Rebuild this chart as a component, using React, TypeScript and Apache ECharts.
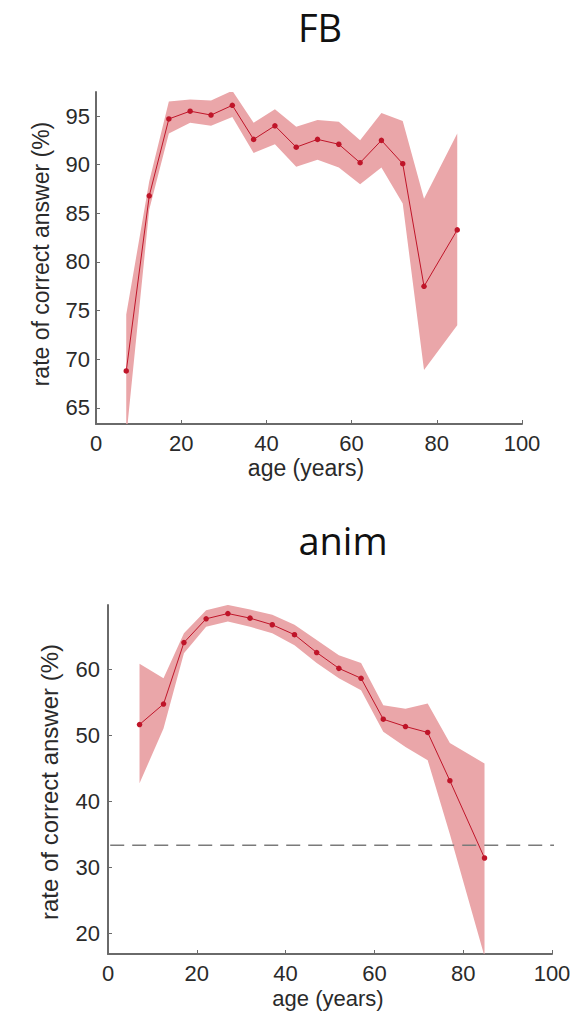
import React, { useEffect, useRef } from "react";
import * as echarts from "echarts";

// Age bin centres (years)
const ages = [7.1, 12.5, 17.1, 22.1, 27, 32, 37, 42, 47, 52, 57, 62, 67, 72, 77, 84.8];

// FB task: mean and confidence band (%)
const fbMean = [68.8, 86.8, 94.7, 95.5, 95.1, 96.1, 92.6, 94.0, 91.8, 92.6, 92.1, 90.2, 92.5, 90.1, 77.5, 83.3];
const fbUpper = [74.6, 88.3, 96.5, 96.7, 96.6, 97.6, 94.3, 95.7, 93.9, 94.6, 94.4, 92.5, 95.3, 94.5, 86.5, 93.2];
const fbLower = [62.0, 85.4, 93.2, 94.3, 94.0, 94.9, 91.2, 92.1, 89.8, 90.5, 89.7, 88.0, 89.7, 86.0, 68.9, 73.5];

// anim task: mean and confidence band (%)
const animMean = [51.6, 54.7, 64.0, 67.6, 68.4, 67.7, 66.7, 65.2, 62.5, 60.1, 58.6, 52.4, 51.3, 50.4, 43.1, 31.4];
const animUpper = [60.8, 58.6, 65.4, 68.9, 69.7, 69.0, 68.2, 66.7, 64.4, 62.1, 60.9, 54.5, 54.0, 54.8, 48.8, 45.7];
const animLower = [42.7, 51.0, 62.4, 66.4, 67.2, 66.4, 65.4, 63.6, 60.9, 58.6, 56.8, 50.5, 48.2, 46.2, 35.0, 16.5];

const chanceLevel = 100 / 3;

const xTicks = [0, 20, 40, 60, 80, 100];
const fbTicks = [65, 70, 75, 80, 85, 90, 95];
const animTicks = [20, 30, 40, 50, 60];

const BAND = "#eaa6a9";
const RED = "#bf1529";
const AXIS = "#6a6a6a";
const LABEL = "#2a2a2a";
const FONT = "'Liberation Sans', Arial, sans-serif";
const TITLE_FONT = "'Open Sans', 'Noto Sans', sans-serif";

function bandSeries(idx: number, lower: number[], upper: number[]) {
  return {
    type: "custom",
    xAxisIndex: idx,
    yAxisIndex: idx,
    clip: true,
    silent: true,
    z: 1,
    data: ages.map((a, i) => [a, lower[i], upper[i]]),
    encode: { x: 0, y: [1, 2] },
    renderItem: (params: any, api: any) => {
      if (params.dataIndex !== 0) return null;
      const top = ages.map((a, i) => api.coord([a, upper[i]]));
      const bottom = ages.map((a, i) => api.coord([a, lower[i]])).reverse();
      return {
        type: "polygon",
        shape: { points: top.concat(bottom) },
        style: { fill: BAND, stroke: null },
      };
    },
  };
}

function meanSeries(idx: number, mean: number[]) {
  return {
    type: "line",
    xAxisIndex: idx,
    yAxisIndex: idx,
    z: 3,
    data: ages.map((a, i) => [a, mean[i]]),
    symbol: "circle",
    symbolSize: 5.5,
    lineStyle: { color: RED, width: 1 },
    itemStyle: { color: RED },
  };
}

function xAxis(idx: number) {
  return {
    type: "value",
    gridIndex: idx,
    min: 0,
    max: 100,
    interval: 20,
    axisLine: { show: true, lineStyle: { color: AXIS, width: 2 } },
    axisTick: { show: true, inside: true, length: 4, lineStyle: { color: AXIS, width: 1 } },
    axisLabel: {
      fontSize: 22,
      color: LABEL,
      fontFamily: FONT,
      margin: 8,
      showMinLabel: true,
      showMaxLabel: true,
      customValues: xTicks,
    },
    splitLine: { show: false },
  };
}

function yAxis(idx: number, min: number, max: number, ticks: number[], margin: number) {
  return {
    type: "value",
    gridIndex: idx,
    min,
    max,
    axisLine: { show: true, lineStyle: { color: AXIS, width: 2 } },
    axisTick: { show: true, inside: true, length: 4, lineStyle: { color: AXIS, width: 1 }, customValues: ticks },
    axisLabel: { fontSize: 22, color: LABEL, fontFamily: FONT, margin, customValues: ticks },
    splitLine: { show: false },
  };
}

export default function App() {
  const ref = useRef<HTMLDivElement>(null);
  useEffect(() => {
    if (!ref.current) return;
    const chart = echarts.init(ref.current, undefined, { renderer: "svg" });
    chart.setOption({
      animation: false,
      backgroundColor: "#ffffff",
      grid: [
        { left: 96, top: 92, width: 426, height: 332 },
        { left: 108, top: 605, width: 444, height: 349 },
      ],
      xAxis: [xAxis(0), xAxis(1)],
      yAxis: [yAxis(0, 63.35, 97.47, fbTicks, 6), yAxis(1, 16.87, 69.69, animTicks, 8)],
      series: [
        bandSeries(0, fbLower, fbUpper),
        meanSeries(0, fbMean),
        bandSeries(1, animLower, animUpper),
        meanSeries(1, animMean),
        {
          type: "line",
          xAxisIndex: 1,
          yAxisIndex: 1,
          clip: false,
          silent: true,
          z: 2,
          symbol: "none",
          data: [
            [0.5, chanceLevel],
            [101.5, chanceLevel],
          ],
          lineStyle: { color: "#7a7a7a", width: 1.5, type: [14, 8] },
        },
      ],
      graphic: [
        {
          type: "text",
          x: 320,
          y: 27,
          style: { text: "FB", fontSize: 38, fontFamily: TITLE_FONT, fill: "#111", align: "center", verticalAlign: "middle" },
        },
        {
          type: "text",
          x: 343,
          y: 540,
          style: { text: "anim", fontSize: 38, fontFamily: TITLE_FONT, fill: "#111", align: "center", verticalAlign: "middle" },
        },
        {
          type: "text",
          x: 41,
          y: 254,
          rotation: Math.PI / 2,
          style: { text: "rate of correct answer (%)", fontSize: 23, fontFamily: FONT, fill: LABEL, align: "center", verticalAlign: "middle" },
        },
        {
          type: "text",
          x: 49,
          y: 782,
          rotation: Math.PI / 2,
          style: { text: "rate of correct answer (%)", fontSize: 24, fontFamily: FONT, fill: LABEL, align: "center", verticalAlign: "middle" },
        },
        {
          type: "text",
          x: 306,
          y: 468,
          style: { text: "age (years)", fontSize: 23, fontFamily: FONT, fill: LABEL, align: "center", verticalAlign: "middle" },
        },
        {
          type: "text",
          x: 328,
          y: 998,
          style: { text: "age (years)", fontSize: 22, fontFamily: FONT, fill: LABEL, align: "center", verticalAlign: "middle" },
        },
      ],
    });
    return () => chart.dispose();
  }, []);
  return <div ref={ref} style={{ position: "fixed", left: 0, top: 0, width: 584, height: 1012 }} />;
}
